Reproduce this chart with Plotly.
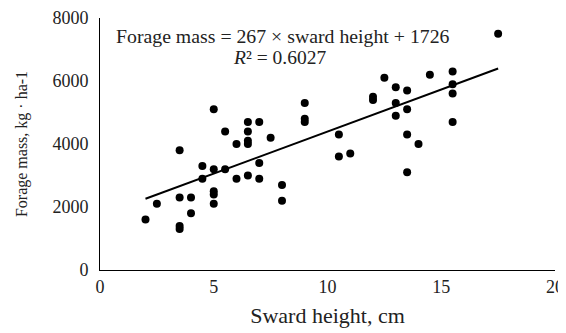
import plotly.graph_objects as go

sward_height = [2, 2.5, 3.5, 3.5, 3.5, 3.5, 4, 4, 4.5, 4.5, 5, 5, 5, 5, 5, 5.5, 5.5,
                6, 6, 6.5, 6.5, 6.5, 6.5, 6.5, 7, 7, 7, 7.5, 8, 8, 9, 9, 9,
                10.5, 10.5, 11, 12, 12, 12.5, 13, 13, 13, 13.5, 13.5, 13.5, 13.5,
                14, 14.5, 15.5, 15.5, 15.5, 15.5, 17.5]
forage_mass = [1600, 2100, 3800, 2300, 1400, 1300, 2300, 1800, 3300, 2900, 3200, 2500, 2400, 2100, 5100, 3200, 4400,
               2900, 4000, 3000, 4700, 4400, 4100, 4000, 3400, 2900, 4700, 4200, 2700, 2200, 5300, 4800, 4700,
               4300, 3600, 3700, 5500, 5400, 6100, 5800, 5300, 4900, 5700, 5100, 4300, 3100,
               4000, 6200, 6300, 5900, 5600, 4700, 7500]
slope = 267
intercept = 1726
trend_x = [min(sward_height), max(sward_height)]
trend_y = [slope * v + intercept for v in trend_x]

x_ticks = [0, 5, 10, 15, 20]
y_ticks = [0, 2000, 4000, 6000, 8000]

font = "Liberation Serif"

fig = go.Figure()
fig.add_trace(go.Scatter(x=sward_height, y=forage_mass, mode="markers",
                         marker=dict(color="black", size=8), showlegend=False))
fig.add_trace(go.Scatter(x=trend_x, y=trend_y, mode="lines",
                         line=dict(color="black", width=2), showlegend=False))

fig.add_annotation(x=0.6, y=7420, xanchor="left", text="Forage mass = 267 × sward height + 1726",
                   showarrow=False, font=dict(family=font, size=19.8, color="#222"))
fig.add_annotation(x=5.75, y=6762, xanchor="left", text="<i>R</i>² = 0.6027",
                   showarrow=False, font=dict(family=font, size=19.5, color="#222"))

fig.update_layout(
    width=558, height=325,
    margin=dict(l=92, r=11, t=10, b=63),
    plot_bgcolor="white", paper_bgcolor="white",
    font=dict(family=font, size=18, color="#222"),
    hovermode=False,
)
fig.update_xaxes(range=[0, 20], tickvals=x_ticks, showgrid=False, zeroline=False,
                 showline=True, linecolor="black", linewidth=1, ticks="", automargin=False,
                 tickfont=dict(size=18),
                 title=dict(text="Sward height, cm", font=dict(size=22), standoff=12))
fig.update_yaxes(range=[0, 8000], tickvals=y_ticks, showgrid=False, zeroline=False,
                 showline=True, linecolor="black", linewidth=1, ticks="", automargin=False,
                 tickfont=dict(size=18), ticklabelstandoff=7,
                 title=dict(text="Forage mass, kg · ha-1", font=dict(size=16), standoff=20))

fig.write_html("out.html")
